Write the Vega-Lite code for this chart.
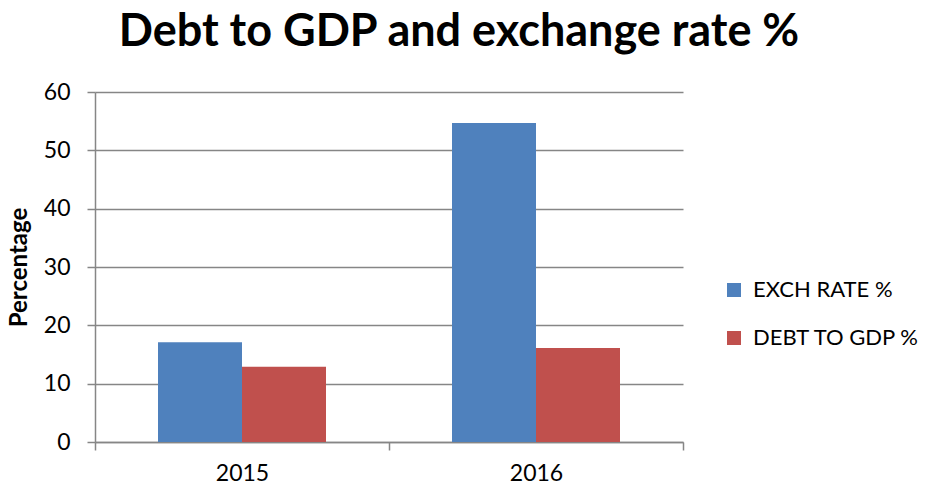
{
  "$schema": "https://vega.github.io/schema/vega-lite/v6.json",
  "autosize": {"type": "none"},
  "width": 588,
  "height": 350,
  "padding": {"left": 95, "top": 92, "right": 245, "bottom": 50},
  "background": "white",
  "title": {
    "text": "Debt to GDP and exchange rate %",
    "font": "Lato",
    "fontSize": 45,
    "fontWeight": "bold",
    "color": "#000000",
    "anchor": "middle",
    "dx": 70,
    "offset": 26
  },
  "data": {
    "values": [
      {"year": "2015", "series": "EXCH RATE %", "value": 17.1},
      {"year": "2015", "series": "DEBT TO GDP %", "value": 12.9},
      {"year": "2016", "series": "EXCH RATE %", "value": 54.7},
      {"year": "2016", "series": "DEBT TO GDP %", "value": 16.1}
    ]
  },
  "mark": {"type": "bar"},
  "encoding": {
    "x": {
      "field": "year",
      "type": "nominal",
      "scale": {"paddingInner": 0, "paddingOuter": 0},
      "axis": {
        "title": null,
        "labelAngle": 0,
        "labelFont": "Lato",
        "labelFontSize": 23,
        "labelColor": "#000000",
        "labelPadding": 12,
        "tickBand": "extent",
        "tickSize": 8,
        "tickColor": "#868686",
        "domainColor": "#868686",
        "domainWidth": 1.5,
        "tickWidth": 1.5
      }
    },
    "xOffset": {
      "field": "series",
      "type": "nominal",
      "sort": ["EXCH RATE %", "DEBT TO GDP %"],
      "scale": {"paddingInner": 0, "paddingOuter": 0.75}
    },
    "y": {
      "field": "value",
      "type": "quantitative",
      "scale": {"domain": [0, 60]},
      "axis": {
        "title": "Percentage",
        "titleFont": "Lato",
        "titleFontSize": 24,
        "titleFontWeight": "bold",
        "titleColor": "#000000",
        "titlePadding": 12,
        "values": [0, 10, 20, 30, 40, 50, 60],
        "labelFont": "Lato",
        "labelFontSize": 23,
        "labelColor": "#000000",
        "labelPadding": 17,
        "tickSize": 8,
        "tickColor": "#868686",
        "tickWidth": 1.5,
        "domainColor": "#868686",
        "domainWidth": 1.5,
        "grid": true,
        "gridColor": "#868686",
        "gridWidth": 1.5
      }
    },
    "color": {
      "field": "series",
      "type": "nominal",
      "sort": ["EXCH RATE %", "DEBT TO GDP %"],
      "scale": {"domain": ["EXCH RATE %", "DEBT TO GDP %"], "range": ["#4F81BD", "#C0504D"]},
      "legend": {
        "title": null,
        "orient": "none",
        "legendX": 628,
        "legendY": 187,
        "symbolType": "square",
        "symbolSize": 196,
        "symbolStrokeWidth": 0,
        "labelFont": "Lato",
        "labelFontSize": 22,
        "labelLimit": 0,
        "labelColor": "#000000",
        "labelOffset": 8,
        "rowPadding": 26
      }
    }
  },
  "config": {
    "view": {"stroke": null}
  }
}
